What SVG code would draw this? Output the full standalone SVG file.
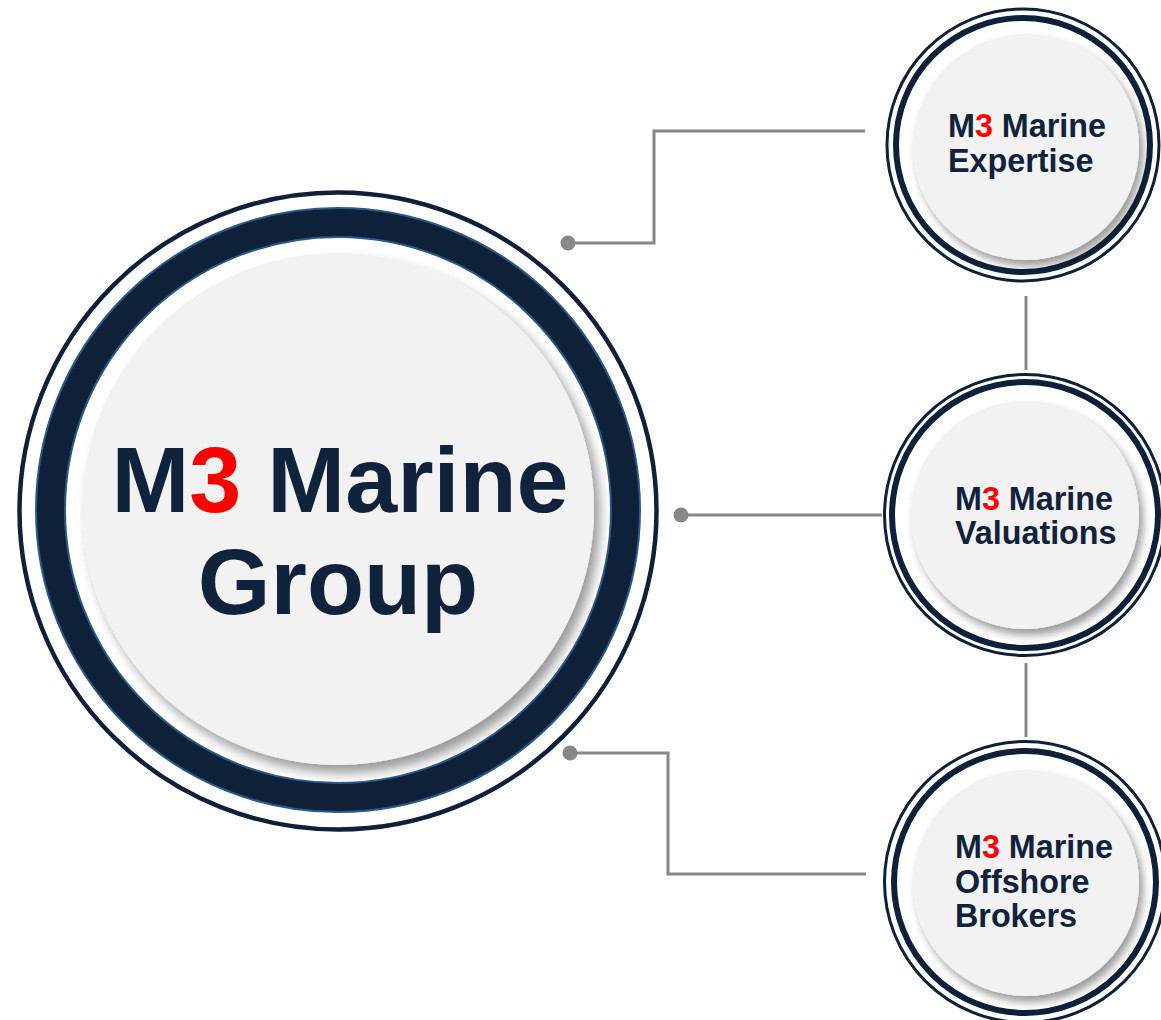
<svg xmlns="http://www.w3.org/2000/svg" width="1161" height="1020" viewBox="0 0 1161 1020">
<defs>
<filter id="shBig" x="-20%" y="-20%" width="150%" height="150%">
<feDropShadow dx="6" dy="8" stdDeviation="6" flood-color="#000" flood-opacity="0.4"/>
</filter>
<filter id="shSmall" x="-20%" y="-20%" width="150%" height="150%">
<feDropShadow dx="4" dy="6" stdDeviation="4" flood-color="#000" flood-opacity="0.4"/>
</filter>
<style>
.thin{fill:none;stroke:#0f2139;stroke-width:3}
.thick{fill:none;stroke:#0f2139;stroke-width:6}
.face{fill:#f2f2f2}
.lbl{font-family:"Liberation Sans",Arial,sans-serif;font-weight:bold;fill:#10223c}
.red{fill:#ff0000}
.conn{fill:none;stroke:#888888;stroke-width:3}
.dot{fill:#888888}
</style>
</defs>
<rect width="1161" height="1020" fill="#ffffff"/>
<g id="connectors">
<polyline class="conn" points="568,243 654,243 654,131 865,131"/>
<circle class="dot" cx="568" cy="243" r="7.5"/>
<line class="conn" x1="681" y1="515" x2="882" y2="515"/>
<circle class="dot" cx="681" cy="515" r="7.5"/>
<polyline class="conn" points="570,753 668,753 668,874 866,874"/>
<circle class="dot" cx="570" cy="753" r="7.5"/>
<line class="conn" x1="1026" y1="296" x2="1026" y2="370"/>
<line class="conn" x1="1026" y1="663" x2="1026" y2="737"/>
</g>
<g id="main">
<circle cx="338" cy="511" r="318.5" fill="none" stroke="#0f2139" stroke-width="4.5"/>
<circle cx="338" cy="510" r="287.5" fill="none" stroke="#2c5a88" stroke-width="31"/>
<circle cx="338" cy="510" r="287.5" fill="none" stroke="#0f2139" stroke-width="27"/>
<circle class="face" cx="338" cy="509" r="256" filter="url(#shBig)"/>
<text class="lbl" x="340" y="512" font-size="93.5" text-anchor="middle">M<tspan class="red">3</tspan> Marine</text>
<text class="lbl" x="338" y="614" font-size="93.5" text-anchor="middle">Group</text>
</g>
<g id="expertise">
<circle class="thin" cx="1023" cy="145" r="136"/>
<circle class="thick" cx="1023" cy="145" r="127"/>
<circle class="face" cx="1026" cy="147" r="113" filter="url(#shSmall)"/>
<text class="lbl" x="948" y="137" font-size="32.3">M<tspan class="red">3</tspan> Marine</text>
<text class="lbl" x="948" y="172" font-size="32.3">Expertise</text>
</g>
<g id="valuations">
<circle class="thin" cx="1025" cy="515" r="140.5"/>
<circle class="thick" cx="1025" cy="515" r="133"/>
<circle class="face" cx="1025" cy="515" r="114" filter="url(#shSmall)"/>
<text class="lbl" x="955" y="510" font-size="32.3">M<tspan class="red">3</tspan> Marine</text>
<text class="lbl" x="955" y="544" font-size="32.3">Valuations</text>
</g>
<g id="offshore">
<circle class="thin" cx="1025" cy="882" r="140.5"/>
<circle class="thick" cx="1025" cy="882" r="131"/>
<circle class="face" cx="1026" cy="883" r="113" filter="url(#shSmall)"/>
<text class="lbl" x="955" y="858" font-size="32.3">M<tspan class="red">3</tspan> Marine</text>
<text class="lbl" x="955" y="893" font-size="32.3">Offshore</text>
<text class="lbl" x="955" y="927" font-size="32.3">Brokers</text>
</g>
</svg>
